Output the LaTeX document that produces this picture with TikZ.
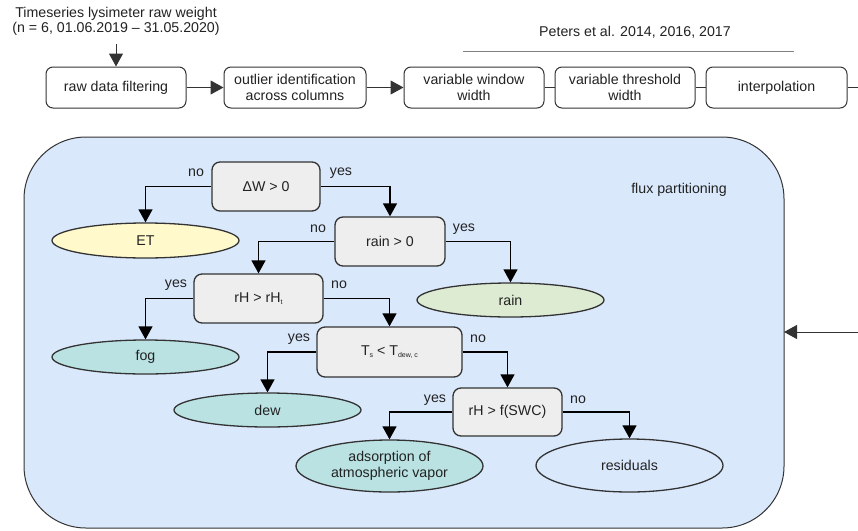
\documentclass[tikz,border=0pt]{standalone}
\usepackage{fontspec}
\setmainfont{Liberation Sans}
\usetikzlibrary{arrows.meta,shapes.geometric}
\definecolor{bgblue}{HTML}{DAE8FC}
\definecolor{decfill}{HTML}{EEEEEE}
\definecolor{etfill}{HTML}{FFF9CC}
\definecolor{rainfill}{HTML}{DEEBD3}
\definecolor{tealfill}{HTML}{BAE2E3}
\definecolor{edge}{HTML}{333333}
\definecolor{txt}{HTML}{222222}
\newcommand{\sbs}[1]{\raisebox{-0.35ex}{\fontsize{7}{8}\selectfont #1}}
\tikzset{
  x=1pt, y=-1pt,
  every node/.style={font=\fontsize{14.2}{16.5}\selectfont, text=txt},
  topbox/.style={draw=edge, line width=1pt, fill=white, rounded corners=7pt, minimum width=140pt, minimum height=41pt, inner sep=0pt, align=center},
  decbox/.style={draw=edge, line width=1.3pt, fill=decfill, rounded corners=8pt, minimum height=49pt, inner sep=0pt, align=center},
  leaf/.style={ellipse, draw=edge, line width=1.3pt, minimum width=187pt, minimum height=34pt, inner sep=0pt, align=center},
  arr/.style={draw=black, line width=1.3pt, -{Triangle[width=14pt,length=13pt]}},
  garr/.style={draw=edge, line width=1pt, -{Triangle[width=14pt,length=13pt]}},
  plain/.style={draw=edge, line width=1pt},
  lbl/.style={inner sep=0pt}
}
\begin{document}
\begin{tikzpicture}
\useasboundingbox (0,0) rectangle (858,530);
% big container
\draw[draw=edge, line width=1pt, fill=bgblue, rounded corners=62pt] (24,137) rectangle (784,528);
\coordinate (bigE) at (784,332);
\coordinate (rightIn) at (858,332);
\node[lbl] (flux) at (679,190) {flux partitioning};

% top row
\node[lbl, align=center, font=\fontsize{14.2}{15.5}\selectfont] (src) at (116,21.5) {Timeseries lysimeter raw weight\\(n = 6, 01.06.2019 – 31.05.2020)};
\coordinate (srcArr) at (116,44);
\node[topbox] (raw) at (116,87.5) {raw data filtering};
\node[topbox, minimum width=142pt] (out) at (295,87.5) {outlier identification\\across columns};
\node[topbox] (vww) at (474,87.5) {variable window\\width};
\node[topbox] (vtw) at (625,87.5) {variable threshold\\width};
\node[topbox, minimum width=141pt] (itp) at (776.5,87.5) {interpolation};
\coordinate (rightOut) at (858,87.5);
\node[lbl] (peters) at (635,32) {Peters et al. 2014, 2016, 2017};
\coordinate (pL) at (463,51);
\coordinate (pR) at (794,51);
\draw[plain, draw=gray] (pL) -- (pR);

\draw[garr] (srcArr) -- (raw.north);
\draw[garr] (raw) -- (out);
\draw[garr] (out) -- (vww);
\draw[plain] (vww) -- (vtw);
\draw[plain] (vtw) -- (itp);
\draw[plain] (itp) -- (rightOut);
\draw[garr] (rightIn) -- (bigE);

% decisions
\node[decbox, minimum width=108pt] (dw) at (266,186.5) {ΔW > 0};
\node[decbox, minimum width=110pt] (rn) at (390,241.5) {rain > 0};
\node[decbox, minimum width=129pt] (rh) at (258.5,298.5) {rH > rH\sbs{t}};
\node[decbox, minimum width=145pt, minimum height=50pt] (ts) at (389.5,352) {T\sbs{s} < T\sbs{dew, c}};
\node[decbox, minimum width=109pt, minimum height=48pt] (rf) at (507.5,412) {rH > f(SWC)};

% leaves
\node[leaf, fill=etfill, minimum height=35pt] (et) at (145.5,240.5) {ET};
\node[leaf, fill=rainfill] (rain) at (510.5,300) {rain};
\node[leaf, fill=tealfill] (fog) at (145.5,357) {fog};
\node[leaf, fill=tealfill] (dew) at (267.5,410) {dew};
\node[leaf, fill=tealfill, minimum height=52pt] (ads) at (389.5,466) {adsorption of\\atmospheric vapor};
\node[leaf, fill=bgblue, minimum height=53pt] (res) at (629.5,465.5) {residuals};

% connectors
\draw[arr] (dw.west) -| (et.north);
\draw[arr] (dw.east) -| (rn.north);
\draw[arr] (rn.west) -| (rh.north);
\draw[arr] (rn.east) -| (rain.north);
\draw[arr] (rh.west) -| (fog.north);
\draw[arr] (rh.east) -| (ts.north);
\draw[arr] (ts.west) -| (dew.north);
\draw[arr] (ts.east) -| (rf.north);
\draw[arr] (rf.west) -| (ads.north);
\draw[arr] (rf.east) -| (res.north);

% labels
\node[lbl] (l1) at (196,173) {no};
\node[lbl] (l2) at (341,173) {yes};
\node[lbl] (l3) at (318,229) {no};
\node[lbl] (l4) at (464,229) {yes};
\node[lbl] (l5) at (176,285) {yes};
\node[lbl] (l6) at (339,285) {no};
\node[lbl] (l7) at (299,339) {yes};
\node[lbl] (l8) at (478,339) {no};
\node[lbl] (l9) at (435,400) {yes};
\node[lbl] (l10) at (578,400) {no};
\end{tikzpicture}
\end{document}
